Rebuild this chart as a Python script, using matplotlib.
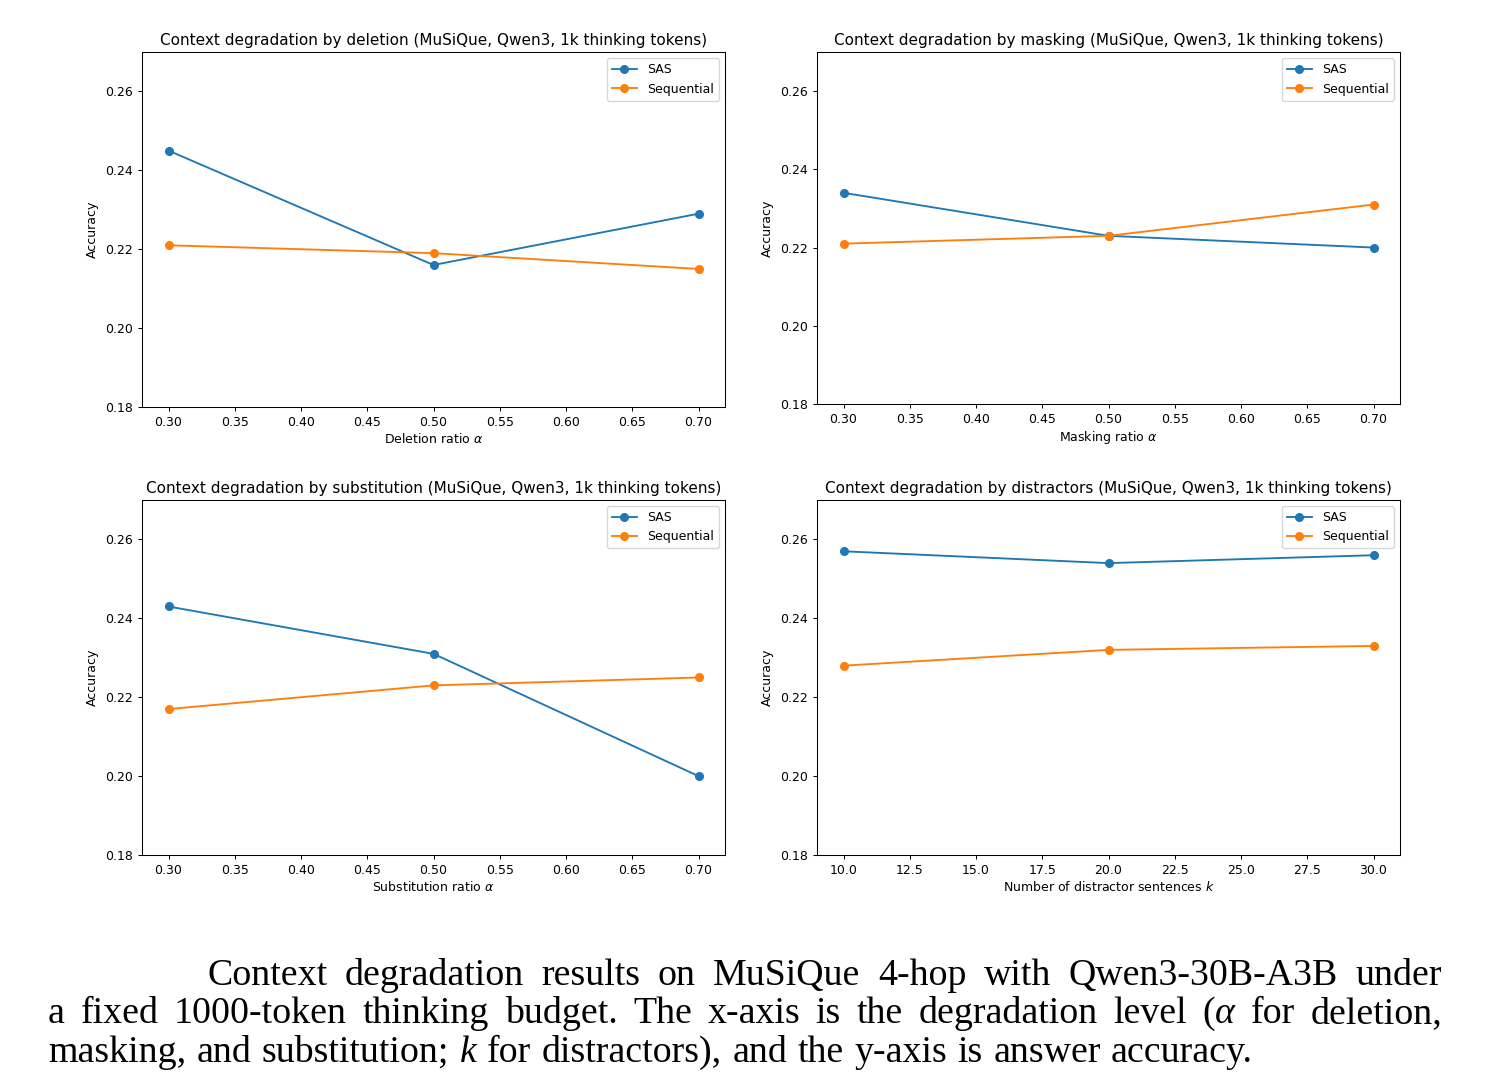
import matplotlib
matplotlib.use("Agg")
import matplotlib.pyplot as plt

# data
ratios = [0.30, 0.50, 0.70]
distractors = [10, 20, 30]

deletion_sas = [0.245, 0.216, 0.229]
deletion_seq = [0.221, 0.219, 0.215]
masking_sas = [0.234, 0.223, 0.220]
masking_seq = [0.221, 0.223, 0.231]
substitution_sas = [0.243, 0.231, 0.200]
substitution_seq = [0.217, 0.223, 0.225]
distractor_sas = [0.257, 0.254, 0.256]
distractor_seq = [0.228, 0.232, 0.233]

titles = [
    "Context degradation by deletion (MuSiQue, Qwen3, 1k thinking tokens)",
    "Context degradation by masking (MuSiQue, Qwen3, 1k thinking tokens)",
    "Context degradation by substitution (MuSiQue, Qwen3, 1k thinking tokens)",
    "Context degradation by distractors (MuSiQue, Qwen3, 1k thinking tokens)",
]
xlabels = [
    r"Deletion ratio $\alpha$",
    r"Masking ratio $\alpha$",
    r"Substitution ratio $\alpha$",
    r"Number of distractor sentences $k$",
]
yticks = [0.18, 0.20, 0.22, 0.24, 0.26]

# caption lines, *...* marks italic pieces
caption_lines = [
    "Context degradation results on MuSiQue 4-hop with Qwen3-30B-A3B under",
    "a fixed 1000-token thinking budget.  The x-axis is the degradation level (*α* for deletion,",
    "masking, and substitution; *k* for distractors), and the y-axis is answer accuracy.",
]

W, H = 1500, 1092
plt.rcParams["font.size"] = 9
plt.rcParams["axes.linewidth"] = 0.75

fig = plt.figure(figsize=(W / 100, H / 100), dpi=100)

# axes boxes in pixels: left, top, right, bottom
boxes = [
    (142, 52, 725, 407),
    (817, 52, 1400, 404),
    (142, 500, 725, 855),
    (817, 500, 1400, 855),
]
xs = [ratios, ratios, ratios, distractors]
sas = [deletion_sas, masking_sas, substitution_sas, distractor_sas]
seq = [deletion_seq, masking_seq, substitution_seq, distractor_seq]

for i, (l, t, r, b) in enumerate(boxes):
    ax = fig.add_axes([l / W, 1 - b / H, (r - l) / W, (b - t) / H])
    ax.plot(xs[i], sas[i], marker="o", lw=1.35, ms=5.5, color="#1f77b4", label="SAS")
    ax.plot(xs[i], seq[i], marker="o", lw=1.35, ms=5.5, color="#ff7f0e", label="Sequential")
    ax.set_ylim(0.18, 0.27)
    ax.set_yticks(yticks)
    ax.set_title(titles[i], fontsize=11, pad=5)
    ax.set_xlabel(xlabels[i], labelpad=2)
    ax.set_ylabel("Accuracy")
    ax.tick_params(width=0.75, length=3.2)
    ax.legend(loc="upper right")

# justified caption
renderer = fig.canvas.get_renderer()
cap_font = dict(family="Liberation Serif", fontsize=27.3)
baselines = [985, 1023, 1062]
starts = [207, 48, 48]
right_edge = 1442


def word_pieces(word):
    parts = word.split("*")
    return [(p, "italic" if k % 2 else "normal") for k, p in enumerate(parts) if p]


def measure(text, style):
    t = fig.text(0, 0, text, style=style, **cap_font)
    w = t.get_window_extent(renderer).width
    t.remove()
    return w


space_w = measure("a a", "normal") - 2 * measure("a", "normal")

for n, line in enumerate(caption_lines):
    words = line.split()
    widths = []
    for wd in words:
        widths.append(sum(measure(p, s) for p, s in word_pieces(wd)))
    x = starts[n]
    if n < len(caption_lines) - 1:
        gap = (right_edge - x - sum(widths)) / (len(words) - 1)
    else:
        gap = space_w * 1.1
    for wd, ww in zip(words, widths):
        px = x
        for p, s in word_pieces(wd):
            fig.text(px / W, 1 - baselines[n] / H, p, style=s, va="baseline", ha="left", **cap_font)
            px += measure(p, s)
        x += ww + gap

fig.savefig("out.png", dpi=100)
